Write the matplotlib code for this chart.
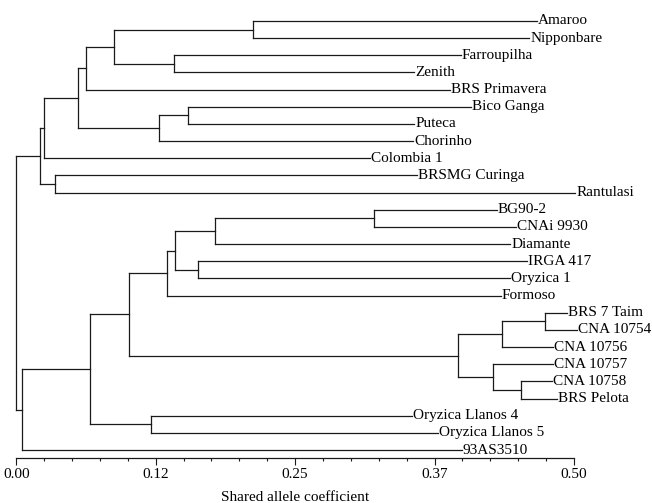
import matplotlib
matplotlib.use("Agg")
import matplotlib.pyplot as plt
from matplotlib.ticker import MultipleLocator

# leaves, top to bottom, with the x where each leaf branch ends
leaf_names = [
    "Amaroo", "Nipponbare", "Farroupilha", "Zenith", "BRS Primavera",
    "Bico Ganga", "Puteca", "Chorinho", "Colombia 1", "BRSMG Curinga",
    "Rantulasi", "BG90-2", "CNAi 9930", "Diamante", "IRGA 417",
    "Oryzica 1", "Formoso", "BRS 7 Taim", "CNA 10754", "CNA 10756",
    "CNA 10757", "CNA 10758", "BRS Pelota", "Oryzica Llanos 4",
    "Oryzica Llanos 5", "93AS3510",
]
leaf_ends = [
    0.4666, 0.4599, 0.3984, 0.3566, 0.3888,
    0.4074, 0.3568, 0.3559, 0.3171, 0.3590,
    0.5009, 0.4307, 0.4480, 0.4426, 0.4576,
    0.4426, 0.4343, 0.4935, 0.5024, 0.4814,
    0.4814, 0.4800, 0.4850, 0.3545,
    0.3783, 0.3993,
]

# internal nodes: name, left child, right child, x of the join
# (children are leaf indices or earlier node names)
node_name = ["A", "B", "C", "D", "E", "F", "G", "H", "I", "J",
             "K", "L", "M", "N", "O", "P", "Q", "R", "S", "T",
             "U", "V", "W", "X", "root"]
node_left = [0, 2, "A", "C", 5, "E", "D", "G", 9, "H",
             11, "K", 14, "L", "N", 17, "P", 21, 20, "Q",
             "O", 23, "U", "W", "J"]
node_right = [1, 3, "B", 4, 6, 7, "F", 8, 10, "I",
              12, 13, 15, "M", 16, 18, 19, 22, "R", "S",
              "T", 24, "V", 25, "X"]
node_x = [0.2125, 0.1417, 0.0876, 0.0628, 0.1537, 0.1282, 0.0550, 0.0246, 0.0347, 0.0210,
          0.3207, 0.1781, 0.1629, 0.1420, 0.1351, 0.4743, 0.4357, 0.4528, 0.4271, 0.3957,
          0.1008, 0.1205, 0.0663, 0.0048, 0.0]

tick_values = [0.0, 0.125, 0.25, 0.375, 0.5]
tick_labels = ["0.00", "0.12", "0.25", "0.37", "0.50"]

plt.rcParams["font.family"] = ["Liberation Serif", "DejaVu Serif"]

fig = plt.figure(figsize=(6.52, 5.03), dpi=100)
ax = fig.add_axes([16.3 / 652, 1 - 458.3 / 503, (574 - 16.3) / 652, (458.3 - 21) / 503])

lc = "#1a1a1a"
lw = 0.9

# position of every node: (x, y)
pos = {}
for i, (name, end) in enumerate(zip(leaf_names, leaf_ends)):
    pos[i] = (end, i)

for name, a, b, x in zip(node_name, node_left, node_right, node_x):
    xa, ya = pos[a]
    xb, yb = pos[b]
    ax.plot([x, x], [ya, yb], color=lc, lw=lw, clip_on=False)
    ax.plot([x, xa], [ya, ya], color=lc, lw=lw, clip_on=False)
    ax.plot([x, xb], [yb, yb], color=lc, lw=lw, clip_on=False)
    pos[name] = (x, (ya + yb) / 2)

for i, (name, end) in enumerate(zip(leaf_names, leaf_ends)):
    ax.text(end + 0.001, i, name, va="center", ha="left", fontsize=11,
            clip_on=False)

ax.set_xlim(0, 0.5)
ax.set_ylim(25 + (458.3 - 450) / 17.16, 0 - 0.0)
ax.set_xticks(tick_values)
ax.set_xticklabels(tick_labels, fontsize=11)
ax.xaxis.set_minor_locator(MultipleLocator(0.025))
ax.tick_params(axis="x", which="major", length=5, width=0.8, pad=2, color=lc)
ax.tick_params(axis="x", which="minor", length=2.5, width=0.8, color=lc)
ax.set_yticks([])
for side in ["top", "right", "left"]:
    ax.spines[side].set_visible(False)
ax.spines["bottom"].set_color(lc)
ax.spines["bottom"].set_linewidth(0.9)
ax.set_xlabel("Shared allele coefficient", fontsize=11, labelpad=7)

fig.savefig("out.png", dpi=100)
